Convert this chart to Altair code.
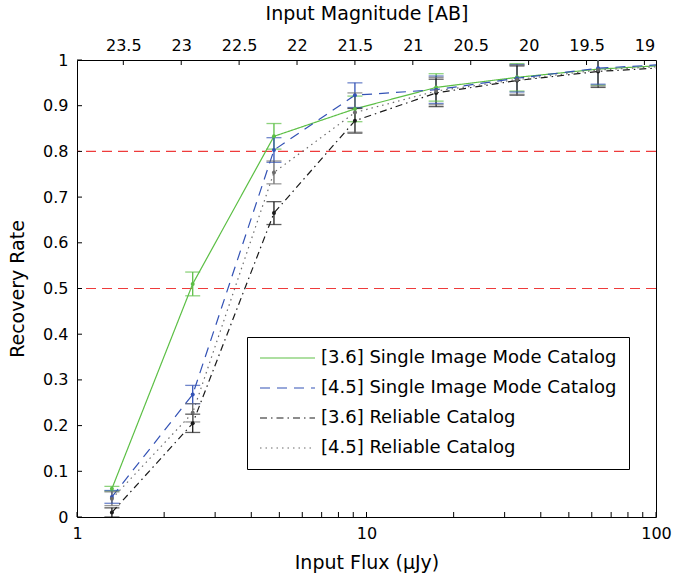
import altair as alt
import pandas as pd

FONT = "DejaVu Sans"

# ---- data ----
mags = [23.6, 22.9, 22.2, 21.5, 20.8, 20.1, 19.4, 18.7]
flux = [1.32, 2.51, 4.79, 9.12, 17.4, 33.1, 63.1, 120.2]

series_names = [
    "[3.6] Single Image Mode Catalog",
    "[4.5] Single Image Mode Catalog",
    "[3.6] Reliable Catalog",
    "[4.5] Reliable Catalog",
]
sim36 = [0.062, 0.510, 0.833, 0.893, 0.940, 0.962, 0.980, 0.990]
sim36_err = [0.005, 0.026, 0.028, 0.028, 0.030, 0.030, 0.035, 0.030]
sim45 = [0.044, 0.268, 0.803, 0.923, 0.935, 0.960, 0.982, 0.992]
sim45_err = [0.014, 0.020, 0.027, 0.027, 0.030, 0.030, 0.035, 0.030]
rel36 = [0.010, 0.205, 0.665, 0.867, 0.928, 0.955, 0.975, 0.985]
rel36_err = [0.010, 0.020, 0.025, 0.027, 0.030, 0.032, 0.035, 0.030]
rel45 = [0.040, 0.228, 0.754, 0.885, 0.932, 0.957, 0.978, 0.988]
rel45_err = [0.015, 0.020, 0.025, 0.043, 0.030, 0.032, 0.035, 0.030]

thresholds = [0.5, 0.8]
x_tick_values = [1, 2, 3, 4, 5, 6, 7, 8, 9, 10, 20, 30, 40, 50, 60, 70, 80, 90, 100]
x_label_values = [1, 10, 100]
y_tick_values = [0, 0.1, 0.2, 0.3, 0.4, 0.5, 0.6, 0.7, 0.8, 0.9, 1.0]
mag_tick_values = [23.5, 23, 22.5, 22, 21.5, 21, 20.5, 20, 19.5, 19]
AB_ZP = 23.9  # AB magnitude of 1 µJy

colors = ["#5cbf45", "#3352b5", "#1a1a1a", "#6b6b6b"]
dashes = [[1, 0], [10, 7], [7, 4, 1.5, 4], [1.5, 4]]

# ---- tables ----
rows = []
for name, vals, errs in zip(series_names, [sim36, sim45, rel36, rel45],
                            [sim36_err, sim45_err, rel36_err, rel45_err]):
    for f, v, e in zip(flux, vals, errs):
        rows.append({"series": name, "flux": f, "rate": v, "lo": v - e, "hi": v + e})
df = pd.DataFrame(rows)
thr_df = pd.DataFrame({"y": thresholds})
xt_df = pd.DataFrame({"t": x_tick_values})
yt_df = pd.DataFrame({"t": y_tick_values})
mag_df = pd.DataFrame({"m": mag_tick_values})
mag_flux_values = [10 ** ((AB_ZP - m) / 2.5) for m in mag_tick_values]

W, H = 579, 457

x_scale = alt.Scale(type="log", domain=[1, 100], nice=False)
y_scale = alt.Scale(domain=[0, 1], nice=False, zero=False)
color_scale = alt.Scale(domain=series_names, range=colors)
dash_scale = alt.Scale(domain=series_names, range=dashes)

axis_common = dict(
    labelFont=FONT, titleFont=FONT, labelFontSize=16, titleFontSize=19,
    titleFontWeight="normal", labelColor="black", titleColor="black",
    ticks=False, domain=False, grid=False, labelFlush=False,
)

x_axis = alt.Axis(orient="bottom", values=x_label_values, format="~g", labelPadding=8,
                  titlePadding=12, **axis_common)
y_axis = alt.Axis(orient="left", values=y_tick_values, format=".1~f", labelPadding=9,
                  titlePadding=15, **axis_common)
top_axis = alt.Axis(
    orient="top", values=mag_flux_values,
    labelExpr=f"format({AB_ZP} - 2.5*log(datum.value)/LN10, '.3~g')",
    labelPadding=7, titlePadding=14, **axis_common,
)
Y_TITLE = "Recovery Rate"


def yenc(field):
    return alt.Y(field, scale=y_scale, axis=y_axis, title=Y_TITLE)


legend = alt.Legend(
    title=None, orient="none", legendX=170, legendY=277, direction="vertical",
    symbolType="stroke", symbolSize=3025, symbolStrokeWidth=1.2,
    clipHeight=18, rowPadding=12, padding=12, labelFont=FONT,
    labelFontSize=18, labelLimit=600, labelOffset=5, labelColor="black",
    strokeColor="black", fillColor="white",
)

hlines = alt.Chart(thr_df).mark_rule(color="#ee3b3b", strokeDash=[10, 6], strokeWidth=1.2).encode(
    y=yenc("y:Q"),
)

lines = alt.Chart(df).mark_line(clip=True, strokeWidth=1.2).encode(
    x=alt.X("flux:Q", scale=x_scale, axis=x_axis, title="Input Flux (µJy)"),
    y=yenc("rate:Q"),
    color=alt.Color("series:N", scale=color_scale, legend=legend, sort=series_names),
    strokeDash=alt.StrokeDash("series:N", scale=dash_scale, legend=legend, sort=series_names),
    order=alt.Order("flux:Q"),
)

err_rules = alt.Chart(df).mark_rule(clip=True, strokeWidth=1.3).encode(
    x=alt.X("flux:Q", scale=x_scale, axis=None),
    y=yenc("lo:Q"),
    y2="hi:Q",
    color=alt.Color("series:N", scale=color_scale, legend=None),
)

err_caps = alt.Chart(df).transform_fold(["lo", "hi"], as_=["end", "val"]).mark_tick(
    clip=True, orient="horizontal", size=15, thickness=1.3
).encode(
    x=alt.X("flux:Q", scale=x_scale, axis=None),
    y=yenc("val:Q"),
    color=alt.Color("series:N", scale=color_scale, legend=None),
)

dots = alt.Chart(df).mark_point(clip=True, filled=True, size=16, opacity=1).encode(
    x=alt.X("flux:Q", scale=x_scale, axis=None),
    y=yenc("rate:Q"),
    color=alt.Color("series:N", scale=color_scale, legend=None),
)

x_ticks = alt.Chart(xt_df).mark_rule(color="black", strokeWidth=1).encode(
    x=alt.X("t:Q", scale=x_scale, axis=None),
    y=alt.value(H),
    y2=alt.value(H - 5),
)

y_ticks = alt.Chart(yt_df).mark_rule(color="black", strokeWidth=1).encode(
    y=yenc("t:Q"),
    x=alt.value(0),
    x2=alt.value(5),
)

top_ticks = alt.Chart(mag_df).transform_calculate(
    f=f"pow(10, ({AB_ZP} - datum.m) / 2.5)"
).mark_rule(color="black", strokeWidth=1).encode(
    x=alt.X("f:Q", scale=x_scale, axis=top_axis, title="Input Magnitude [AB]"),
    y=alt.value(0),
    y2=alt.value(5),
)

chart = alt.layer(hlines, lines, err_rules, err_caps, dots, x_ticks, y_ticks, top_ticks).properties(
    width=W, height=H,
    autosize=alt.AutoSizeParams(type="none"),
    padding={"left": 77, "top": 60, "right": 35, "bottom": 61},
    background="white",
).configure_view(stroke="black", strokeWidth=1)

chart.save("out.html", embed_options={"renderer": "svg", "actions": False})
